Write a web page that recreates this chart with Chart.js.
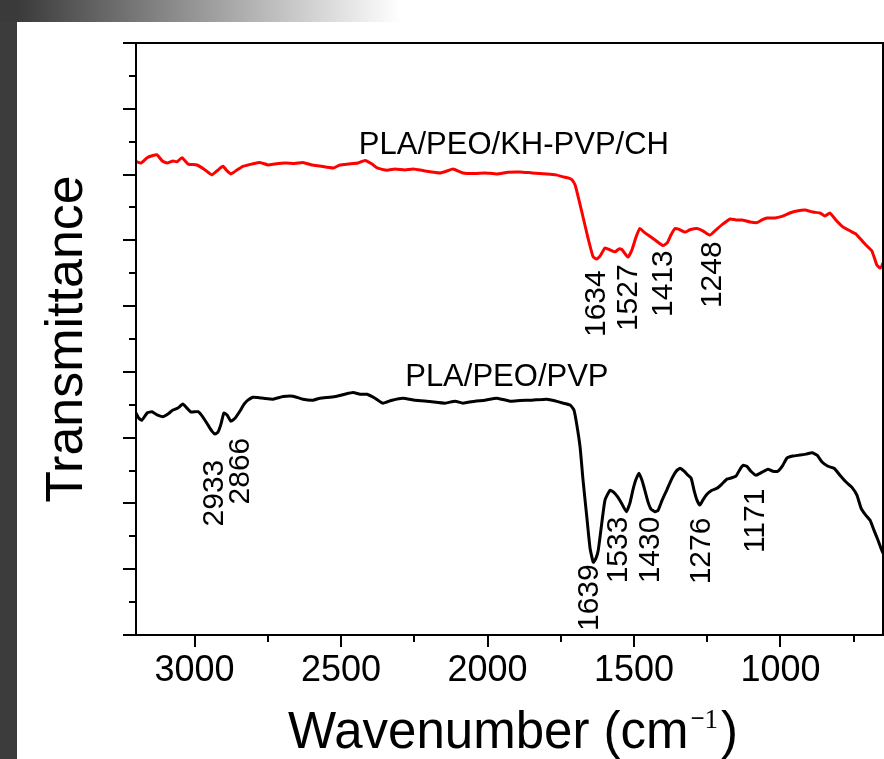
<!DOCTYPE html>
<html>
<head>
<meta charset="utf-8">
<script src="https://cdn.jsdelivr.net/npm/chart.js@4.4.1/dist/chart.umd.min.js"></script>
<style>
  html, body { margin: 0; padding: 0; background: #fff; }
  #wrap { position: relative; width: 884px; height: 759px; overflow: hidden; }
  #leftBar { position: absolute; left: 0; top: 0; width: 17px; height: 759px; background: #3c3c3c; }
  #topBar { position: absolute; left: 0; top: 0; width: 420px; height: 22px;
            background: linear-gradient(to right, #3a3a3a 0px, #3a3a3a 17px, #ffffff 400px); }
  canvas { position: absolute; left: 0; top: 0; }
</style>
</head>
<body>
<div id="wrap">
  <div id="leftBar"></div>
  <div id="topBar"></div>
  <canvas id="chart" width="884" height="759"></canvas>
</div>
<script>
// ── Data ──────────────────────────────────────────────────────────────────
const redWn = [3200,3183,3162,3145,3128,3111,3094,3074,3060,3043,3022,2992,2964,2941,2920,2903,2889,2876,2855,2835,
  2804,2777,2749,2726,2691,2657,2630,2599,2572,2527,2504,2476,2442,2418,2394,2377,2343,2316,2282,2254,
  2213,2162,2138,2118,2084,2043,2009,1968,1930,1889,1848,1797,1766,1742,1725,1712,1701,1688,1674,1657,
  1640,1628,1616,1599,1582,1565,1551,1541,1521,1507,1493,1480,1466,1452,1428,1401,1387,1374,1360,1343,
  1326,1309,1285,1265,1241,1220,1196,1172,1152,1132,1104,1080,1063,1046,1019,995,968,944,917,889,
  865,848,831,811,787,763,742,718,698,688,677,671,660,654,650]
const redT = [14.40,14.35,14.51,14.57,14.60,14.42,14.35,14.41,14.39,14.51,14.32,14.29,14.14,13.99,14.14,14.25,14.11,14.02,14.14,14.25,
  14.32,14.37,14.29,14.32,14.35,14.34,14.37,14.29,14.26,14.20,14.29,14.32,14.35,14.43,14.32,14.20,14.13,14.17,14.14,14.17,
  14.11,14.05,14.11,14.17,14.05,14.03,14.05,14.02,14.07,14.08,14.05,14.02,13.99,13.93,13.90,13.84,13.68,13.23,12.71,12.07,
  11.51,11.43,11.52,11.77,11.71,11.65,11.74,11.72,11.49,11.71,12.10,12.36,12.25,12.16,12.01,11.84,11.92,12.16,12.36,12.32,
  12.25,12.32,12.36,12.29,12.16,12.32,12.50,12.65,12.62,12.62,12.56,12.54,12.62,12.68,12.68,12.73,12.83,12.89,12.92,12.86,
  12.83,12.74,12.83,12.62,12.41,12.29,12.19,11.95,11.77,11.68,11.40,11.25,11.16,11.22,11.31]

const blackWn = [3200,3190,3180,3162,3145,3128,3108,3091,3074,3057,3040,3026,3012,2988,2971,2954,2941,2930,2920,2910,
  2900,2889,2876,2862,2845,2831,2818,2801,2784,2760,2732,2698,2664,2630,2596,2572,2538,2514,2487,2459,
  2435,2411,2384,2357,2326,2289,2248,2196,2145,2111,2084,2043,2009,1968,1923,1889,1848,1797,1766,1742,
  1718,1705,1695,1684,1674,1660,1650,1639,1630,1622,1613,1599,1582,1569,1555,1541,1526,1514,1504,1494,
  1483,1473,1463,1452,1442,1428,1418,1404,1387,1370,1356,1343,1329,1316,1305,1295,1285,1275,1265,1251,
  1234,1217,1200,1183,1166,1152,1138,1128,1115,1101,1084,1063,1043,1026,1009,992,978,958,933,913,
  892,875,858,838,817,797,776,756,739,725,711,694,681,667,657,650]
const blackT = [6.75,6.59,6.53,6.75,6.79,6.69,6.64,6.72,6.84,6.90,7.02,6.90,6.78,6.79,6.62,6.38,6.20,6.11,6.17,6.41,
  6.75,6.69,6.50,6.59,6.81,7.02,7.14,7.23,7.22,7.19,7.17,7.25,7.26,7.17,7.14,7.20,7.23,7.26,7.32,7.37,
  7.32,7.32,7.20,7.05,7.14,7.20,7.14,7.10,7.05,7.11,7.05,7.11,7.14,7.20,7.11,7.13,7.14,7.17,7.11,7.05,
  6.99,6.84,6.38,5.71,4.71,3.49,2.64,2.21,2.33,2.58,3.19,4.10,4.40,4.34,4.19,3.98,3.75,4.01,4.40,4.71,
  4.92,4.71,4.40,4.04,3.83,3.75,3.79,4.10,4.43,4.77,4.98,5.07,4.98,4.86,4.77,4.40,4.10,3.95,4.10,4.28,
  4.40,4.46,4.59,4.74,4.78,4.83,5.04,5.16,5.13,4.98,4.86,4.95,5.04,4.98,4.98,5.16,5.38,5.44,5.47,5.50,
  5.54,5.47,5.26,5.13,5.07,4.86,4.65,4.49,4.25,3.86,3.67,3.49,3.19,2.88,2.64,2.49]

// series names, placed at (wavenumber, transmittance) of their text baseline centre
const seriesNames = ["PLA/PEO/KH-PVP/CH", "PLA/PEO/PVP"]
const seriesColors = ["#ff0000", "#000000"]
const nameWn = [1910, 1934]
const nameT = [14.63, 7.57]

// peak labels: text, label position (wavenumber of text centre, transmittance of text start)
const peakText = ["1634", "1527", "1413", "1248", "2933", "2866", "1639", "1533", "1430", "1276", "1171"]
const peakWn   = [1633, 1524, 1406, 1239, 2937, 2848, 1658, 1558, 1449, 1275, 1090]
const peakT    = [9.06, 9.24, 9.67, 9.94, 3.30, 3.97, 0.12, 1.57, 1.57, 1.54, 2.49]

const xMajor = [3000, 2500, 2000, 1500, 1000]
const xTicks = [3000, 2750, 2500, 2250, 2000, 1750, 1500, 1250, 1000, 750]

const FONT = '"Liberation Sans", Arial, sans-serif'
const SERIF = '"Liberation Serif", "Times New Roman", serif'

const zip = (xs, ys) => xs.map((x, i) => ({ x, y: ys[i] }))

// ── Frame, tick marks, annotations, axis titles ──────────────────────────
const decor = {
  id: "decor",
  afterDraw(chart) {
    const { ctx, chartArea: a, scales: { x, y } } = chart
    ctx.save()
    ctx.strokeStyle = "#000"
    ctx.lineWidth = 2
    ctx.strokeRect(a.left, a.top, a.right - a.left, a.bottom - a.top)

    ctx.beginPath()
    for (let v = 0; v <= 18; v++) {
      const py = Math.round(y.getPixelForValue(v))
      const len = v % 2 === 0 ? 13 : 7
      ctx.moveTo(a.left - len, py)
      ctx.lineTo(a.left, py)
    }
    xTicks.forEach(v => {
      const px = Math.round(x.getPixelForValue(v))
      const len = xMajor.includes(v) ? 12 : 7
      ctx.moveTo(px, a.bottom)
      ctx.lineTo(px, a.bottom + len)
    })
    ctx.stroke()

    // series names
    ctx.font = `31px ${FONT}`
    ctx.textAlign = "center"
    ctx.textBaseline = "alphabetic"
    ctx.fillStyle = "#000"
    seriesNames.forEach((n, i) => {
      ctx.fillText(n, x.getPixelForValue(nameWn[i]), y.getPixelForValue(nameT[i]))
    })

    // peak labels, rotated
    ctx.font = `30px ${FONT}`
    ctx.textAlign = "left"
    ctx.textBaseline = "middle"
    peakText.forEach((t, i) => {
      ctx.save()
      ctx.translate(x.getPixelForValue(peakWn[i]), y.getPixelForValue(peakT[i]))
      ctx.rotate(-Math.PI / 2)
      ctx.fillText(t, 0, 2)
      ctx.restore()
    })

    // y title
    ctx.save()
    ctx.translate(68, (a.top + a.bottom) / 2)
    ctx.rotate(-Math.PI / 2)
    ctx.font = `52px ${FONT}`
    ctx.textAlign = "center"
    ctx.textBaseline = "middle"
    ctx.fillText("Transmittance", 0, 0)
    ctx.restore()

    // x title with superscript
    const base = 748
    const main = "Wavenumber (cm"
    ctx.textAlign = "left"
    ctx.textBaseline = "alphabetic"
    ctx.font = `51px ${FONT}`
    const w1 = ctx.measureText(main).width
    let cx = 288
    ctx.fillText(main, cx, base)
    cx += w1 + 2
    ctx.font = `24px ${FONT}`
    ctx.fillText("\u2212", cx, base - 22)
    cx += ctx.measureText("\u2212").width
    ctx.font = `27px ${SERIF}`
    ctx.fillText("1", cx, base - 20)
    cx += ctx.measureText("1").width + 3
    ctx.font = `51px ${FONT}`
    ctx.fillText(")", cx, base)
    ctx.restore()
  }
}

new Chart(document.getElementById("chart"), {
  type: "line",
  data: {
    datasets: [
      { label: seriesNames[0], data: zip(redWn, redT), borderColor: seriesColors[0], borderWidth: 3 },
      { label: seriesNames[1], data: zip(blackWn, blackT), borderColor: seriesColors[1], borderWidth: 3 }
    ]
  },
  options: {
    responsive: false,
    animation: false,
    devicePixelRatio: 1,
    elements: { point: { radius: 0 }, line: { tension: 0.15 } },
    layout: { padding: { top: 43, right: 1, left: 0, bottom: 0 } },
    plugins: { legend: { display: false }, tooltip: { enabled: false } },
    scales: {
      x: {
        type: "linear",
        reverse: true,
        min: 650,
        max: 3200,
        grid: { display: false, drawTicks: false },
        border: { display: false },
        afterBuildTicks: s => { s.ticks = xTicks.map(v => ({ value: v })) },
        afterFit: s => { s.height = 124 },
        ticks: {
          autoSkip: false,
          maxRotation: 0,
          padding: 14,
          color: "#000",
          font: { family: FONT, size: 36 },
          callback: v => xMajor.includes(v) ? String(v) : ""
        }
      },
      y: {
        min: 0,
        max: 18,
        grid: { display: false, drawTicks: false },
        border: { display: false },
        ticks: { display: false, stepSize: 1 },
        afterFit: s => { s.width = 136 }
      }
    }
  },
  plugins: [decor]
})
</script>
</body>
</html>
